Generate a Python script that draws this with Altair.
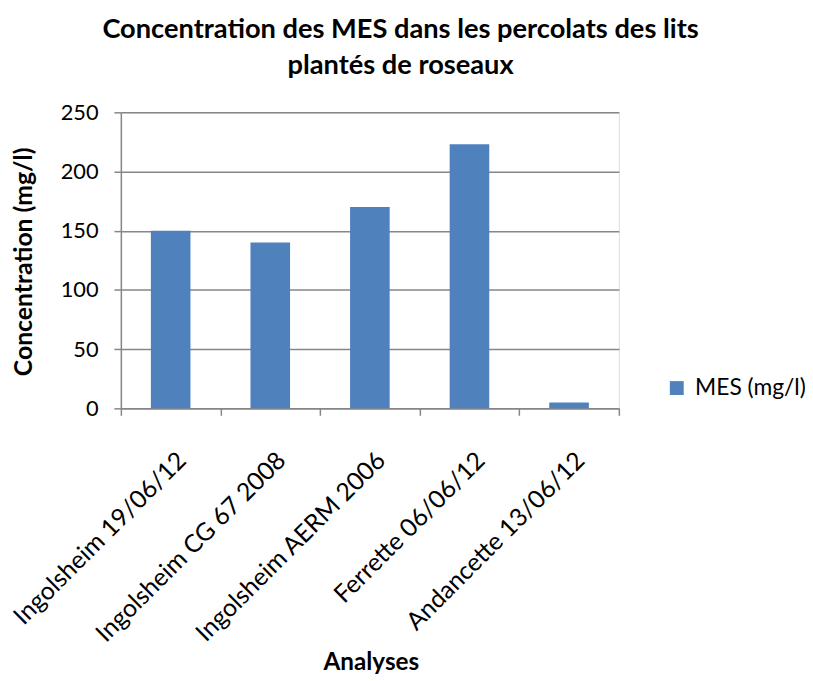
import altair as alt
import pandas as pd

categories = ["Ingolsheim 19/06/12", "Ingolsheim CG 67 2008", "Ingolsheim AERM 2006",
              "Ferrette 06/06/12", "Andancette 13/06/12"]
values = [150, 140, 170, 223, 5]
series = "MES (mg/l)"
y_ticks = [0, 50, 100, 150, 200, 250]

df = pd.DataFrame({"Analyses": categories, "MES": values, "serie": [series] * len(categories)})

FONT = "Lato"
W, H = 503, 299
GRAY = "#868686"

bars = alt.Chart(df).mark_bar(size=40, color="#4F81BD").encode(
    x=alt.X("Analyses:N", sort=None,
            scale=alt.Scale(paddingInner=0, paddingOuter=0),
            axis=alt.Axis(title="Analyses", labelAngle=-45, labelAlign="right",
                          labelBaseline="middle", labelFontSize=25, labelFont=FONT,
                          labelColor="black", labelPadding=41, labelOffset=11,
                          labelLimit=500,
                          tickBand="extent", tickSize=7, tickColor=GRAY, tickWidth=1.5,
                          domainColor=GRAY, domainWidth=1.5, grid=False,
                          titleFontSize=24.5, titleFont=FONT, titleFontWeight="bold",
                          titleColor="black", titleX=W / 2 + 1, titleY=264,
                          titleBaseline="alphabetic")),
    y=alt.Y("MES:Q", scale=alt.Scale(domain=[0, 250], nice=False),
            axis=alt.Axis(title="Concentration (mg/l)", values=y_ticks,
                          labelFontSize=22, labelFont=FONT, labelColor="black",
                          labelPadding=16, tickSize=7, tickColor=GRAY, tickWidth=1.5,
                          domainColor=GRAY, domainWidth=1.5, gridColor=GRAY,
                          gridOpacity=1, gridWidth=1.5,
                          titleFontSize=25, titleFont=FONT, titleFontWeight="bold",
                          titleColor="black", titleX=-98, titleY=H / 2 + 1,
                          titleBaseline="middle", titleAngle=-90)),
    color=alt.Color("serie:N", scale=alt.Scale(range=["#4F81BD"]),
                    legend=alt.Legend(title=None, orient="none", legendX=550, legendY=267,
                                      symbolType="square", symbolSize=196,
                                      symbolStrokeWidth=0, padding=0,
                                      labelFontSize=23, labelFont=FONT, labelColor="black",
                                      labelOffset=7, labelLimit=300)),
)

chart = bars.properties(
    width=W, height=H,
    title=alt.TitleParams(["Concentration des MES dans les percolats des lits",
                           "plantés de roseaux"],
                          font=FONT, fontSize=27.5, fontWeight="bold", color="black",
                          anchor="middle", offset=22, lineHeight=37, dx=31),
    autosize=alt.AutoSizeParams(type="none"),
    padding={"left": 114, "top": 102, "right": 188, "bottom": 272},
).configure_view(stroke=None).configure(background="white")

chart.save("out.html", embed_options={"renderer": "svg", "actions": False})
